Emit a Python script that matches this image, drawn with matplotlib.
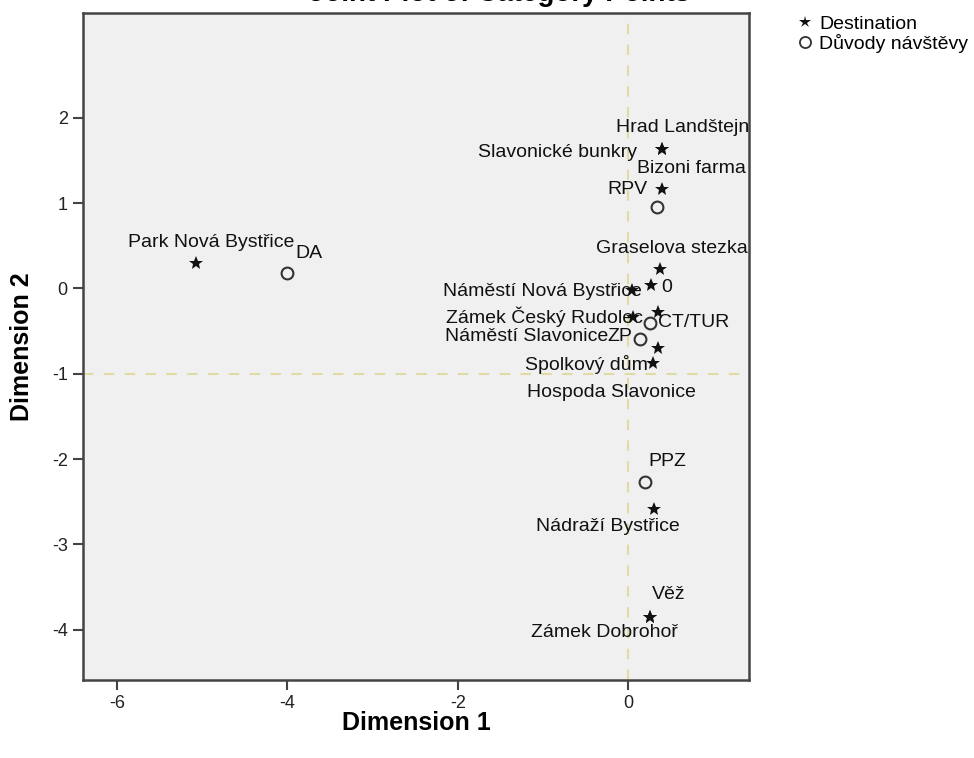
import matplotlib.pyplot as plt
from matplotlib.lines import Line2D

plt.rcParams['font.family'] = ['Liberation Sans', 'DejaVu Sans']
plt.rcParams['axes.unicode_minus'] = False

# Category points of the two variables
dest_names = ['Park Nová Bystřice', 'Hrad Landštejn', 'Slavonické bunkry', 'Bizoni farma',
              'Graselova stezka', '0', 'Náměstí Nová Bystřice', 'Zámek Český Rudolec',
              'Náměstí Slavonice', 'Hospoda Slavonice', 'Spolkový dům', 'Nádraží Bystřice',
              'Věž', 'Zámek Dobrohoř']
dest_x = [-5.07, 0.40, 0.40, 0.40, 0.38, 0.27, 0.05, 0.06, 0.35, 0.35, 0.29, 0.31, 0.26, 0.26]
dest_y = [0.30, 1.64, 1.64, 1.17, 0.23, 0.04, -0.02, -0.33, -0.27, -0.70, -0.87, -2.59, -3.85, -3.85]

reason_names = ['DA', 'RPV', 'CT/TUR', 'ZP', 'PPZ']
reason_x = [-4.00, 0.34, 0.26, 0.14, 0.20]
reason_y = [0.18, 0.96, -0.40, -0.59, -2.27]

xticks = [-6, -4, -2, 0]
yticks = [-4, -3, -2, -1, 0, 1, 2]

# label placement: offset in pixels (dx, dy) and horizontal anchor
dest_offsets = [(15, 20, 'center'), (20, 21, 'center'), (-25, -4, 'right'), (29, 20, 'center'),
                (11, 20, 'center'), (10, -2, 'left'), (10, -1, 'right'), (10, 0, 'right'),
                (-50, -25, 'right'), (-46, -44, 'center'), (-5, -2, 'right'), (-47, -17, 'center'),
                (19, 22, 'center'), (-46, -16, 'center')]
reason_offsets = [(8, 20, 'left'), (-10, 17, 'right'), (8, 0, 'left'), (-8, 2, 'right'),
                  (3, 21, 'left')]

fig = plt.figure(figsize=(9.74, 7.58), dpi=100)
ax = fig.add_axes([83 / 974, 78 / 758, 666 / 974, 667 / 758])
ax.set_facecolor('#f0f0f0')

ax.set_xlim(-6.40, 1.42)
ax.set_ylim(-4.59, 3.23)

# reference lines
ref_kw = dict(color='#e0dba5', linestyle=(0, (5, 5)), linewidth=1.5, zorder=1)
ax.axvline(0, **ref_kw)
ax.axhline(-1, **ref_kw)

ax.plot(dest_x, dest_y, linestyle='none', marker='*', markersize=10,
        color='#111111', markeredgewidth=0, zorder=3)
ax.plot(reason_x, reason_y, linestyle='none', marker='o', markersize=8.5,
        markerfacecolor='none', markeredgecolor='#333333', markeredgewidth=1.5, zorder=3)

for name, x, y, (dx, dy, ha) in zip(dest_names, dest_x, dest_y, dest_offsets):
    ax.annotate(name, (x, y), xytext=(dx, dy), textcoords='offset pixels',
                ha=ha, va='center', fontsize=14, color='#111111', zorder=2,
                annotation_clip=False)
for name, x, y, (dx, dy, ha) in zip(reason_names, reason_x, reason_y, reason_offsets):
    ax.annotate(name, (x, y), xytext=(dx, dy), textcoords='offset pixels',
                ha=ha, va='center', fontsize=14, color='#111111', zorder=2,
                annotation_clip=False)

ax.set_xticks(xticks)
ax.set_yticks(yticks)
ax.tick_params(direction='out', length=7.5, width=1.5, color='#444444',
               labelsize=13, labelcolor='#222222', top=False, right=False)
for sp in ax.spines.values():
    sp.set_linewidth(1.8)
    sp.set_color('#444444')

ax.set_xlabel('Dimension 1', fontsize=18, fontweight='bold')
ax.set_ylabel('Dimension 2', fontsize=18, fontweight='bold')
ax.xaxis.set_label_coords(0.5, -0.047)
ax.yaxis.set_label_coords(-0.074, 0.5)

fig.text(500 / 974, 1 - 1 / 758, 'Joint Plot of Category Points', ha='center',
         va='baseline', fontsize=20, fontweight='bold')

handles = [
    Line2D([], [], linestyle='none', marker='*', markersize=9, color='#111111',
           markeredgewidth=0),
    Line2D([], [], linestyle='none', marker='o', markersize=8, markerfacecolor='none',
           markeredgecolor='#333333', markeredgewidth=1.3),
]
fig.legend(handles, ['Destination', 'Důvody návštěvy'], loc='upper left',
           bbox_to_anchor=(798 / 974, 1 - 15 / 758), frameon=False, fontsize=14,
           handlelength=0.7, handletextpad=0.4, borderpad=0, borderaxespad=0,
           labelspacing=0.05)

fig.savefig('out.png', dpi=100)
